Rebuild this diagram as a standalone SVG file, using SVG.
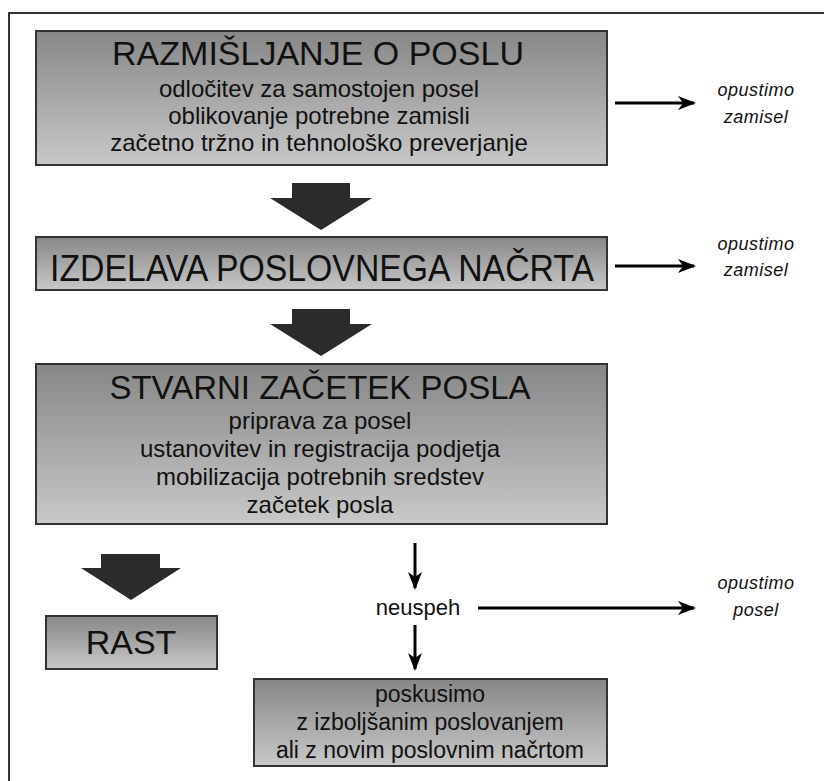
<svg xmlns="http://www.w3.org/2000/svg" width="824" height="781" viewBox="0 0 824 781">
<defs>
<linearGradient id="g" x1="0" y1="0" x2="0" y2="1">
<stop offset="0" stop-color="#878787"/>
<stop offset="1" stop-color="#c8c8c8"/>
</linearGradient>
<marker id="ah" viewBox="0 0 18 14" refX="16" refY="7" markerWidth="18" markerHeight="14" markerUnits="userSpaceOnUse" orient="auto">
<path d="M0,0 L18,7 L0,14 L5,7 Z" fill="#000"/>
</marker>
<style>
.box{fill:url(#g);stroke:#333;stroke-width:2}
.t{font-family:"Liberation Sans",Arial,sans-serif;fill:#111;text-anchor:middle}
.h{font-size:33px}
.s{font-size:24px}
.i{font-family:"Liberation Sans",Arial,sans-serif;font-style:italic;font-size:18px;fill:#111;text-anchor:middle;letter-spacing:0.5px}
.big{fill:#2b2b2b}
.ln{stroke:#000;stroke-width:3;fill:none;marker-end:url(#ah)}
</style>
</defs>
<rect width="824" height="781" fill="#fff"/>
<path d="M9,790 V13 H830" fill="none" stroke="#333" stroke-width="2"/>

<g id="node-razmisljanje">
<rect class="box" x="36" y="31" width="571" height="134"/>
<text class="t" x="318" y="65" font-size="34">RAZMIŠLJANJE O POSLU</text>
<text class="t s" x="319" y="97">odločitev za samostojen posel</text>
<text class="t s" x="319" y="124">oblikovanje potrebne zamisli</text>
<text class="t s" x="319" y="151">začetno tržno in tehnološko preverjanje</text>
</g>

<g id="node-izdelava">
<rect class="box" x="36" y="237" width="571" height="53"/>
<text class="t" x="322" y="281" font-size="36" textLength="544" lengthAdjust="spacingAndGlyphs">IZDELAVA POSLOVNEGA NAČRTA</text>
</g>

<g id="node-stvarni">
<rect class="box" x="36" y="364" width="571" height="160"/>
<text class="t h" x="320" y="399">STVARNI ZAČETEK POSLA</text>
<text class="t s" x="320" y="429">priprava za posel</text>
<text class="t s" x="320" y="457">ustanovitev in registracija podjetja</text>
<text class="t s" x="320" y="485">mobilizacija potrebnih sredstev</text>
<text class="t s" x="320" y="513">začetek posla</text>
</g>

<g id="node-rast">
<rect class="box" x="46" y="616" width="171" height="53"/>
<text class="t" x="131" y="654" font-size="34">RAST</text>
</g>

<g id="node-neuspeh">
<text class="t" x="418" y="615" font-size="22">neuspeh</text>
</g>

<g id="node-poskusimo">
<rect class="box" x="254" y="679" width="353" height="87"/>
<text class="t" x="430" y="702" font-size="23">poskusimo</text>
<text class="t" x="430" y="730" font-size="23">z izboljšanim poslovanjem</text>
<text class="t" x="430" y="758" font-size="23">ali z novim poslovnim načrtom</text>
</g>

<g id="node-opustimo1">
<text class="i" x="756" y="96">opustimo</text>
<text class="i" x="756" y="123">zamisel</text>
</g>
<g id="node-opustimo2">
<text class="i" x="756" y="250">opustimo</text>
<text class="i" x="756" y="276">zamisel</text>
</g>
<g id="node-opustimo3">
<text class="i" x="756" y="589">opustimo</text>
<text class="i" x="756" y="616">posel</text>
</g>

<g id="connectors">
<path class="big" d="M292,183 H350 V198 H372 L321,230 L270,198 H292 Z"/>
<path class="big" d="M292,309 H350 V324 H372 L321,356 L270,324 H292 Z"/>
<path class="big" d="M101,554 H160 V568 H181 L131,600 L81,568 H101 Z"/>
<line class="ln" x1="615" y1="103" x2="694" y2="103"/>
<line class="ln" x1="615" y1="266" x2="694" y2="266"/>
<line class="ln" x1="478" y1="608" x2="694" y2="608"/>
<line class="ln" x1="415" y1="543" x2="415" y2="588"/>
<line class="ln" x1="415" y1="625" x2="415" y2="669"/>
</g>
</svg>
